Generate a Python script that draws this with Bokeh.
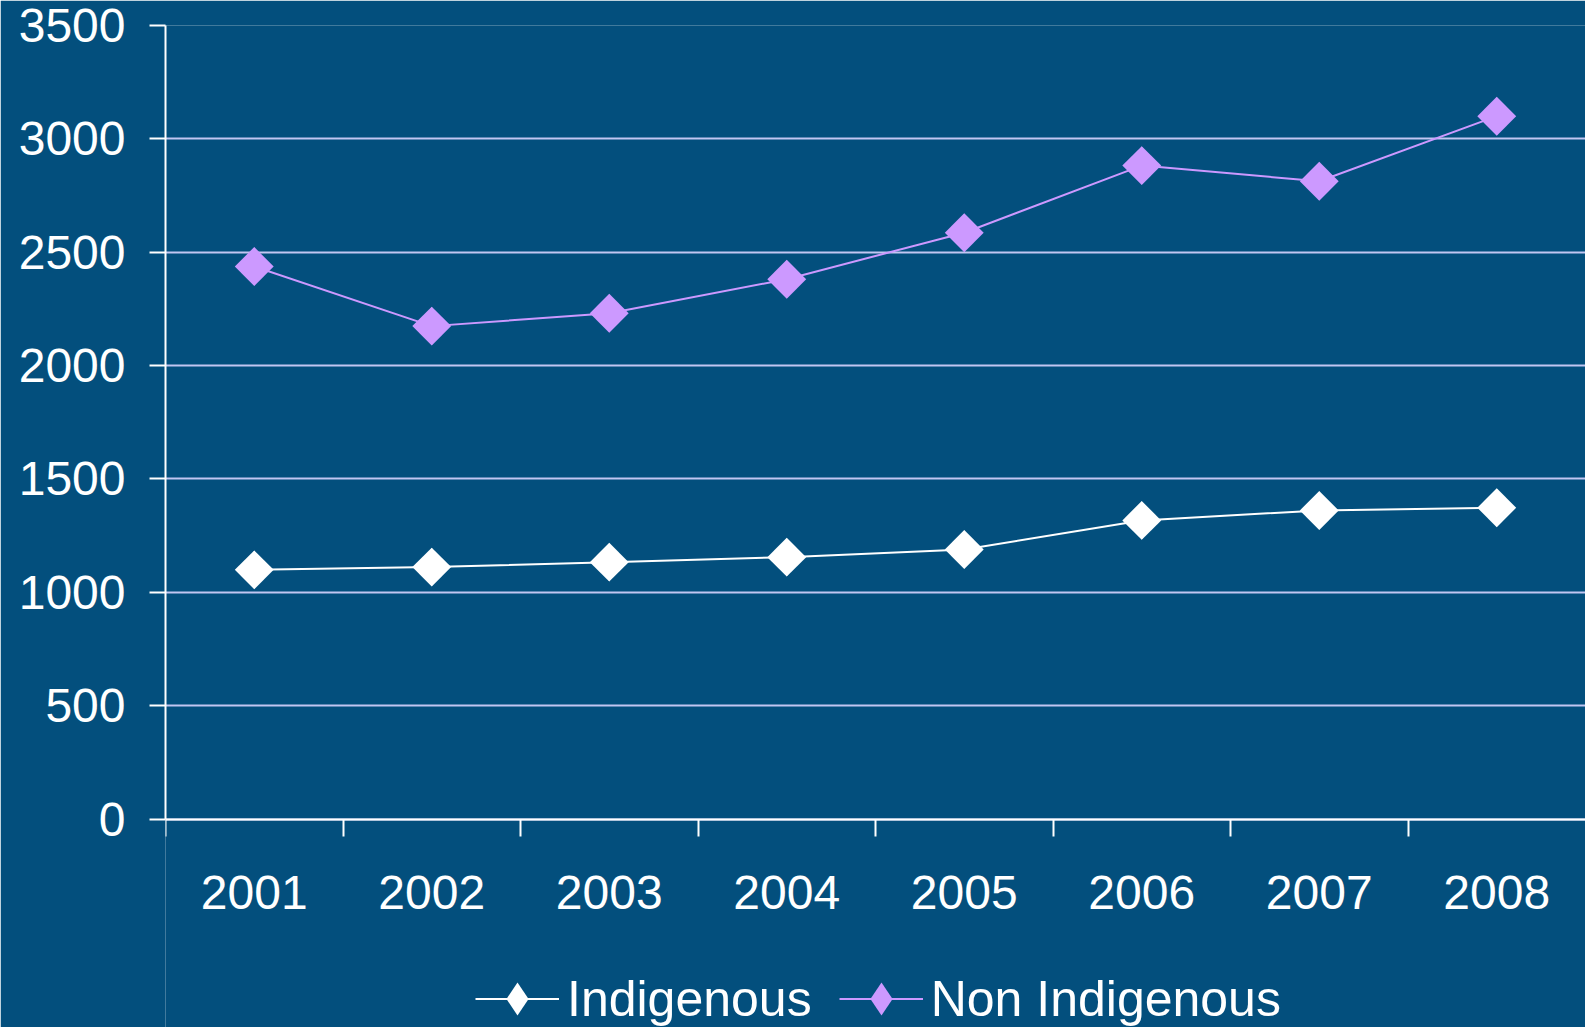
import math
from bokeh.plotting import figure
from bokeh.models import FixedTicker, Legend, LegendItem, Range1d
from bokeh.embed import file_html
from bokeh.resources import INLINE

# ---- data ----
years = ["2001", "2002", "2003", "2004", "2005", "2006", "2007", "2008"]
indigenous = [1099, 1111, 1133, 1155, 1189, 1317, 1361, 1373]
non_indigenous = [2437, 2174, 2231, 2381, 2586, 2882, 2813, 3100]
y_ticks = [0, 500, 1000, 1500, 2000, 2500, 3000, 3500]

# ---- styles ----
BG = "#034F7D"
GRID = "#C2C6F2"
PURPLE = "#CC99FF"
WHITE = "#FFFFFF"
FONT = "Liberation Sans"

W, H = 1585, 1027
LEFT, TOP = 165, 25
ZERO_PX = 818.5            # pixel row of value 0
units_per_px = (y_ticks[-1] - y_ticks[0]) / (ZERO_PX - TOP)
y_start = y_ticks[0] - (H - ZERO_PX) * units_per_px   # frame extends to bottom edge

x_centers = [i + 0.5 for i in range(len(years))]
x_bounds = list(range(len(years)))   # category boundaries (last one is off the edge)

p = figure(width=W, height=H, output_backend="svg", toolbar_location=None,
           x_range=Range1d(0, len(years)), y_range=Range1d(y_start, y_ticks[-1]),
           min_border_left=LEFT, min_border_right=0, min_border_top=TOP, min_border_bottom=0,
           background_fill_color=BG, border_fill_color=BG)
p.outline_line_color = None

# grid
p.xgrid.visible = False
p.ygrid.ticker = FixedTicker(ticks=y_ticks)
p.ygrid.grid_line_color = GRID
p.ygrid.grid_line_width = 2

# y axis
p.yaxis.ticker = FixedTicker(ticks=y_ticks)
p.yaxis.bounds = (y_ticks[0], y_ticks[-1])
p.yaxis.axis_line_color = WHITE
p.yaxis.axis_line_width = 2
p.yaxis.major_tick_line_color = WHITE
p.yaxis.major_tick_line_width = 2
p.yaxis.major_tick_out = 16
p.yaxis.major_tick_in = 0
p.yaxis.minor_tick_line_color = None
p.yaxis.major_label_text_color = WHITE
p.yaxis.major_label_text_font = FONT
p.yaxis.major_label_text_font_size = "48px"
p.yaxis.major_label_standoff = 24

# x axis (drawn at value 0)
p.xaxis.fixed_location = y_ticks[0]
p.xaxis.ticker = FixedTicker(ticks=x_centers, minor_ticks=x_bounds)
p.xaxis.major_label_overrides = {xc: yr for xc, yr in zip(x_centers, years)}
p.xaxis.axis_line_color = WHITE
p.xaxis.axis_line_width = 2
p.xaxis.major_tick_line_color = None
p.xaxis.major_tick_out = 17
p.xaxis.major_tick_in = 0
p.xaxis.minor_tick_line_color = WHITE
p.xaxis.minor_tick_line_width = 2
p.xaxis.minor_tick_out = 17
p.xaxis.minor_tick_in = 0
p.xaxis.major_label_text_color = WHITE
p.xaxis.major_label_text_font = FONT
p.xaxis.major_label_text_font_size = "48px"
p.xaxis.major_label_standoff = 40

# series
l_ind = p.line(x_centers, indigenous, line_color=WHITE, line_width=2)
d_ind = p.scatter(x_centers, indigenous, marker="diamond", size=38,
                  fill_color=WHITE, line_color=None)
p.scatter(x_centers, indigenous, marker="square", size=27.5, angle=math.pi / 4,
          fill_color=WHITE, line_color=None)
l_non = p.line(x_centers, non_indigenous, line_color=PURPLE, line_width=2)
d_non = p.scatter(x_centers, non_indigenous, marker="diamond", size=38,
                  fill_color=PURPLE, line_color=None)
p.scatter(x_centers, non_indigenous, marker="square", size=27.5, angle=math.pi / 4,
          fill_color=PURPLE, line_color=None)

legend = Legend(
    items=[LegendItem(label="Indigenous", renderers=[l_ind, d_ind]),
           LegendItem(label="Non Indigenous", renderers=[l_non, d_non])],
    orientation="horizontal", location=(310, -13),
    glyph_width=84, glyph_height=83, label_standoff=8, spacing=27,
    padding=0, margin=0, border_line_color=None, background_fill_alpha=0,
    label_text_color=WHITE, label_text_font=FONT, label_text_font_size="50px",
)
p.add_layout(legend)

html = file_html(p, INLINE)
html = html.replace("<body>", '<body style="background-color:%s;">' % BG, 1)
open("out.html", "w").write(html)
